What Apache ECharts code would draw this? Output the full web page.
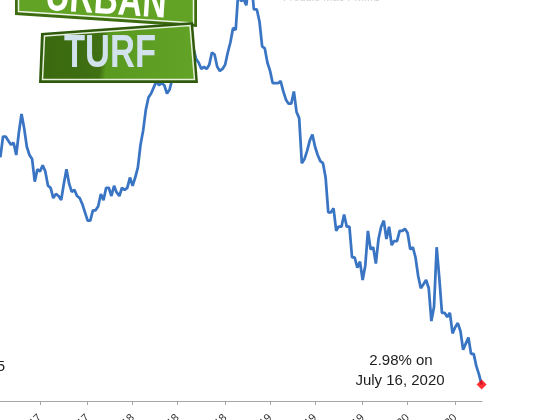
<!DOCTYPE html>
<html>
<head>
<meta charset="utf-8">
<script src="https://cdn.jsdelivr.net/npm/echarts@6.0.0/dist/echarts.min.js"></script>
<style>
html,body{margin:0;padding:0;background:#fff;}
#chart{width:560px;height:420px;}
</style>
</head>
<body>
<div id="chart"></div>
<script>
// Weekly 30-year fixed mortgage rate (%)
const dates2017 = ['2017-01-12','2017-01-19','2017-01-26','2017-02-02','2017-02-09','2017-02-16','2017-02-23','2017-03-02','2017-03-09','2017-03-16','2017-03-23','2017-03-30','2017-04-06','2017-04-13','2017-04-20','2017-04-27','2017-05-04','2017-05-11','2017-05-18','2017-05-25','2017-06-01','2017-06-08','2017-06-15','2017-06-22','2017-06-29','2017-07-06','2017-07-13','2017-07-20','2017-07-27','2017-08-03','2017-08-10','2017-08-17','2017-08-24','2017-08-31','2017-09-07','2017-09-14','2017-09-21','2017-09-28','2017-10-05','2017-10-12','2017-10-19','2017-10-26','2017-11-02','2017-11-09','2017-11-16','2017-11-22','2017-11-30','2017-12-07','2017-12-14','2017-12-21','2017-12-28'];
const rates2017 = [4.12,4.09,4.19,4.19,4.17,4.15,4.16,4.10,4.21,4.30,4.23,4.14,4.10,4.08,3.97,4.03,4.02,4.05,4.02,3.95,3.94,3.89,3.91,3.90,3.88,3.96,4.03,3.96,3.92,3.93,3.90,3.89,3.86,3.82,3.78,3.78,3.83,3.83,3.85,3.91,3.88,3.94,3.94,3.90,3.95,3.92,3.90,3.94,3.93,3.94,3.99];
const dates2018 = ['2018-01-04','2018-01-11','2018-01-18','2018-01-25','2018-02-01','2018-02-08','2018-02-15','2018-02-22','2018-03-01','2018-03-08','2018-03-15','2018-03-22','2018-03-29','2018-04-05','2018-04-12','2018-04-19','2018-04-26','2018-05-03','2018-05-10','2018-05-17','2018-05-24','2018-05-31','2018-06-07','2018-06-14','2018-06-21','2018-06-28','2018-07-05','2018-07-12','2018-07-19','2018-07-26','2018-08-02','2018-08-09','2018-08-16','2018-08-23','2018-08-30','2018-09-06','2018-09-13','2018-09-20','2018-09-27','2018-10-04','2018-10-11','2018-10-18','2018-10-25','2018-11-01','2018-11-08','2018-11-15','2018-11-21','2018-11-29','2018-12-06','2018-12-13','2018-12-20','2018-12-27'];
const rates2018 = [3.95,3.99,4.04,4.15,4.22,4.32,4.38,4.40,4.43,4.46,4.44,4.45,4.44,4.40,4.42,4.47,4.58,4.55,4.55,4.61,4.66,4.56,4.54,4.62,4.57,4.55,4.52,4.53,4.52,4.54,4.60,4.59,4.53,4.51,4.52,4.54,4.60,4.65,4.72,4.71,4.90,4.85,4.86,4.83,4.94,4.94,4.81,4.81,4.75,4.63,4.62,4.55];
const dates2019 = ['2019-01-03','2019-01-10','2019-01-17','2019-01-24','2019-01-31','2019-02-07','2019-02-14','2019-02-21','2019-02-28','2019-03-07','2019-03-14','2019-03-21','2019-03-28','2019-04-04','2019-04-11','2019-04-18','2019-04-25','2019-05-02','2019-05-09','2019-05-16','2019-05-23','2019-05-30','2019-06-06','2019-06-13','2019-06-20','2019-06-27','2019-07-03','2019-07-11','2019-07-18','2019-07-25','2019-08-01','2019-08-08','2019-08-15','2019-08-22','2019-08-29','2019-09-05','2019-09-12','2019-09-19','2019-09-26','2019-10-03','2019-10-10','2019-10-17','2019-10-24','2019-10-31','2019-11-07','2019-11-14','2019-11-21','2019-11-27','2019-12-05','2019-12-12','2019-12-19','2019-12-26'];
const rates2019 = [4.51,4.45,4.45,4.45,4.46,4.41,4.37,4.35,4.35,4.41,4.31,4.28,4.06,4.08,4.12,4.17,4.20,4.14,4.10,4.07,4.06,3.99,3.82,3.82,3.84,3.73,3.75,3.75,3.81,3.75,3.75,3.60,3.60,3.55,3.58,3.49,3.56,3.73,3.64,3.65,3.57,3.69,3.75,3.78,3.69,3.75,3.66,3.68,3.68,3.73,3.73,3.74];
const dates2020 = ['2020-01-02','2020-01-09','2020-01-16','2020-01-23','2020-01-30','2020-02-06','2020-02-13','2020-02-20','2020-02-27','2020-03-05','2020-03-12','2020-03-19','2020-03-26','2020-04-02','2020-04-09','2020-04-16','2020-04-23','2020-04-30','2020-05-07','2020-05-14','2020-05-21','2020-05-28','2020-06-04','2020-06-11','2020-06-18','2020-06-25','2020-07-02','2020-07-09','2020-07-16'];
const rates2020 = [3.72,3.64,3.65,3.60,3.51,3.45,3.47,3.49,3.45,3.29,3.36,3.65,3.50,3.33,3.33,3.31,3.33,3.23,3.26,3.28,3.24,3.15,3.18,3.21,3.13,3.13,3.07,3.03,2.98];

// x-axis tick dates (first weekly reading every four months)
const tickDates = ['2017-05-04','2017-09-07','2018-01-04','2018-05-03','2018-09-06','2019-01-03','2019-05-02','2019-09-05','2020-01-02','2020-05-07'];

const annotationLines = ['2.98% on', 'July 16, 2020'];
</script>
<script>
const parseT = s => Date.parse(s + 'T00:00:00Z');
const allDates = dates2017.concat(dates2018, dates2019, dates2020);
const allRates = rates2017.concat(rates2018, rates2019, rates2020);
const seriesData = allDates.map((d, i) => [parseT(d), allRates[i]]);
const lastPoint = seriesData[seriesData.length - 1];
const tickVals = tickDates.map(parseT);
const monNames = ['Jan','Feb','Mar','Apr','May','Jun','Jul','Aug','Sep','Oct','Nov','Dec'];

const chart = echarts.init(document.getElementById('chart'), null, {renderer: 'canvas'});

const FONT = '"Liberation Sans", Arial, sans-serif';

const option = {
  animation: false,
  backgroundColor: '#ffffff',
  grid: {left: 0, right: 78, top: 0, bottom: 19, containLabel: false, outerBoundsMode: 'none'},
  xAxis: {
    type: 'value',
    min: parseT('2017-01-18'),
    max: parseT('2020-07-17'),
    axisLine: {show: true, lineStyle: {color: '#a6a6a6', width: 1}},
    axisTick: {show: true, length: 4, customValues: tickVals, lineStyle: {color: '#a6a6a6'}},
    axisLabel: {
      customValues: tickVals,
      rotate: 45,
      margin: 15,
      fontSize: 11,
      color: '#333',
      fontFamily: FONT,
      formatter: v => { const d = new Date(v); return monNames[d.getUTCMonth()] + '-' + String(d.getUTCFullYear()).slice(2); }
    },
    splitLine: {show: false}
  },
  yAxis: {
    type: 'value',
    min: 2.9,
    max: 4.856,
    show: false,
    splitLine: {show: false}
  },
  series: [
    {
      type: 'line',
      data: seriesData,
      showSymbol: false,
      symbol: 'none',
      lineStyle: {color: '#3a75c4', width: 2.75},
      itemStyle: {color: '#3a75c4'},
      z: 2
    },
    {
      type: 'scatter',
      data: [lastPoint],
      symbol: 'diamond',
      symbolSize: 10,
      itemStyle: {color: '#ff0000'},
      clip: false,
      z: 5
    }
  ],
  graphic: [
    {type: 'text', x: 283, y: 3, z: 100, style: {text: 'Freddie Mac PMMS', fontSize: 11, fill: '#d0d0d0', fontFamily: FONT, textAlign: 'left', textVerticalAlign: 'bottom'}},
    {type: 'text', x: 5, y: 367, z: 100, style: {text: '3.5', fontSize: 15, fill: '#222', fontFamily: FONT, textAlign: 'right', textVerticalAlign: 'middle'}},
    {type: 'text', x: 401, y: 361, z: 100, style: {text: annotationLines[0], fontSize: 15, fill: '#1e1e1e', fontFamily: FONT, textAlign: 'center', textVerticalAlign: 'middle'}},
    {type: 'text', x: 400, y: 381, z: 100, style: {text: annotationLines[1], fontSize: 15, fill: '#1e1e1e', fontFamily: FONT, textAlign: 'center', textVerticalAlign: 'middle'}},
    {type: 'polygon', z: 100, shape: {points: [[15,-40],[197,-40],[197,27],[15,15]]}, style: {fill: '#3d6c10'}},
    {type: 'polygon', z: 101, shape: {points: [[18.5,-40],[193.5,-40],[193.5,23],[18.5,11.5]]}, style: {fill: '#62a326', stroke: '#eef5e6', lineWidth: 1.5}},
    {type: 'text', x: 106, y: 1, z: 102, rotation: -0.066, scaleX: 0.73, style: {text: 'URBAN', fontSize: 46, fontWeight: 'bold', fill: '#ffffff', fontFamily: FONT, textAlign: 'center', textVerticalAlign: 'middle'}},
    {type: 'polygon', z: 103, shape: {points: [[41,33],[193,22],[198,83],[39,83]]}, style: {fill: '#2f5a0b'}},
    {type: 'polygon', z: 104, shape: {points: [[44.5,36],[190,25.5],[194.5,79.5],[42.5,79.5]]}, style: {
      fill: {type: 'linear', x: 0, y: 0, x2: 1, y2: 0.25, colorStops: [
        {offset: 0, color: '#3a680f'}, {offset: 0.4, color: '#3f7012'}, {offset: 0.44, color: '#5a991f'}, {offset: 1, color: '#62a327'}
      ]},
      stroke: '#e6efdc', lineWidth: 1.5}},
    {type: 'text', x: 64, y: 54, z: 105, scaleX: 0.75, style: {text: 'TURF', fontSize: 46, fontWeight: 'bold',
      fill: '#d2e2ec', fontFamily: FONT, textAlign: 'left', textVerticalAlign: 'middle'}}
  ]
};
chart.setOption(option);
</script>
</body>
</html>
